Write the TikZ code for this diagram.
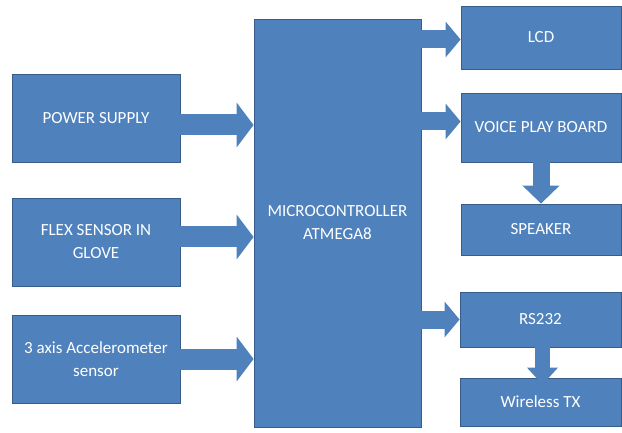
\documentclass[tikz,border=0pt]{standalone}
\usepackage{fontspec}
\setmainfont{Carlito}
\usetikzlibrary{arrows.meta}
\definecolor{boxblue}{RGB}{79,129,189}
\definecolor{boxedge}{RGB}{56,93,138}
\tikzset{
  blk/.style={draw=boxedge, fill=boxblue, line width=0.8pt, text=white, align=center,
    inner sep=0pt, font=\fontsize{17}{23}\selectfont},
  inarrow/.style={draw=boxblue, line width=21pt, -{Triangle[width=44pt,length=17pt]}},
  outarrow/.style={draw=boxblue, line width=18pt, -{Triangle[width=35pt,length=15pt]}},
  downarrow/.style={draw=boxblue, line width=17pt, -{Triangle[width=36pt,length=18pt]}},
}
\begin{document}
\begin{tikzpicture}
    \useasboundingbox (0pt,0pt) rectangle (622pt,-433pt);
    % inputs
    \node[blk, minimum width=168pt, minimum height=88pt] (pwr) at (96pt,-118pt) {POWER SUPPLY};
    \node[blk, minimum width=168pt, minimum height=88pt] (flex) at (96pt,-242pt) {FLEX SENSOR IN\\GLOVE};
    \node[blk, minimum width=168pt, minimum height=88pt] (acc) at (96pt,-359pt) {3 axis Accelerometer\\sensor};
    % controller
    \node[blk, minimum width=167pt, minimum height=408pt] (mcu) at (337.5pt,-223pt) {MICROCONTROLLER\\ATMEGA8};
    % outputs
    \node[blk, minimum width=160pt, minimum height=63pt] (lcd) at (541pt,-37.5pt) {LCD};
    \node[blk, minimum width=160pt, minimum height=69pt] (voice) at (541pt,-127.5pt) {VOICE PLAY BOARD};
    \node[blk, minimum width=160pt, minimum height=51pt] (spk) at (541pt,-229.5pt) {SPEAKER};
    \node[blk, minimum width=161pt, minimum height=55pt] (rs) at (540.5pt,-319.5pt) {RS232};
    \node[blk, minimum width=161pt, minimum height=48pt] (wtx) at (540.5pt,-402pt) {Wireless TX};
    % arrows
    \draw[inarrow] ([yshift=-7pt]pwr.east) -- ([yshift=-7pt]mcu.west |- pwr.east);
    \draw[inarrow] ([yshift=5pt]flex.east) -- ([yshift=5pt]mcu.west |- flex.east);
    \draw[inarrow] (acc.east) -- (mcu.west |- acc.east);
    \draw[outarrow] ([yshift=-2pt]mcu.east |- lcd.west) -- ([yshift=-2pt]lcd.west);
    \draw[outarrow] ([yshift=6pt]mcu.east |- voice.west) -- ([yshift=6pt]voice.west);
    \draw[outarrow] (mcu.east |- rs.west) -- (rs.west);
    \draw[downarrow] (voice.south) -- (spk.north);
    \draw[downarrow, line width=15pt, -{Triangle[width=30pt,length=17pt]}] ([xshift=2pt]rs.south) -- ([xshift=2pt,yshift=-7pt]wtx.north);
\end{tikzpicture}
\end{document}
